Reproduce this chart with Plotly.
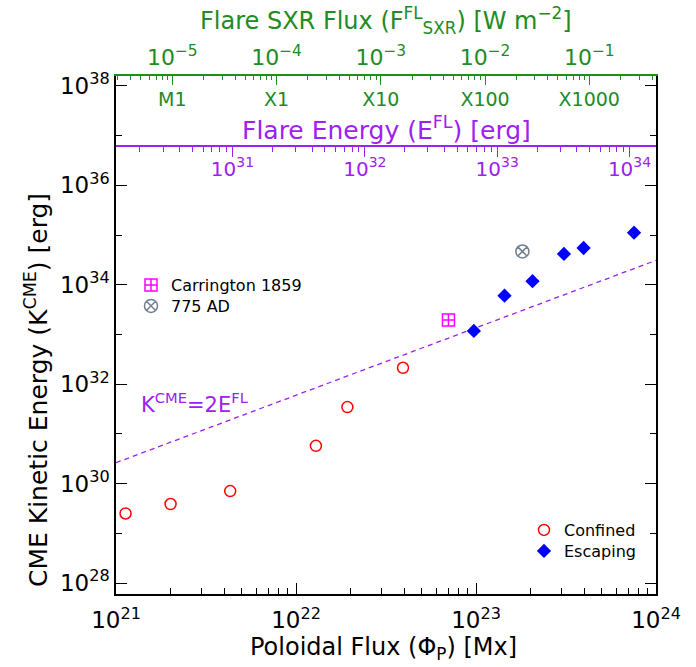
import plotly.graph_objects as go

# ---------------- data ----------------
confined_phi = [1.13e21, 2.01e21, 4.31e21, 1.29e22, 1.93e22, 3.93e22]
confined_K = [2.51e29, 3.89e29, 7.08e29, 5.75e30, 3.47e31, 2.14e32]

escaping_phi = [9.73e22, 1.44e23, 2.06e23, 3.08e23, 3.96e23, 7.55e23]
escaping_K = [1.18e33, 6.03e33, 1.18e34, 4.17e34, 5.50e34, 1.12e35]

carrington_phi = [7.03e22]
carrington_K = [1.95e33]
ad775_phi = [1.81e23]
ad775_K = [4.68e34]

# K = 2 E line (flare energy at the two ends of the flux axis)
line_phi = [1e21, 1e24]
line_E = [1.32e30, 1.55e34]
line_K = [2 * e for e in line_E]

# axis ranges (log10)
x_range = [21, 24]
y_range = [27.78, 38.20]
sxr_range = [-5.54, -0.36]
efl_range = [30.12, 34.20]

x_ticks = [1e21, 1e22, 1e23, 1e24]
x_ticktext = ["10<sup>21</sup>", "10<sup>22</sup>", "10<sup>23</sup>", "10<sup>24</sup>"]
y_ticks = [1e28, 1e30, 1e32, 1e34, 1e36, 1e38]
y_ticktext = ["10<sup>28</sup>", "10<sup>30</sup>", "10<sup>32</sup>", "10<sup>34</sup>",
              "10<sup>36</sup>", "10<sup>38</sup>"]
y_minor = [1e29, 1e31, 1e33, 1e35, 1e37]
sxr_ticks = [1e-5, 1e-4, 1e-3, 1e-2, 1e-1]
sxr_ticktext = ["10<sup>−5</sup>", "10<sup>−4</sup>", "10<sup>−3</sup>", "10<sup>−2</sup>", "10<sup>−1</sup>"]
goes_class = ["M1", "X1", "X10", "X100", "X1000"]
efl_ticks = [1e31, 1e32, 1e33, 1e34]
efl_ticktext = ["10<sup>31</sup>", "10<sup>32</sup>", "10<sup>33</sup>", "10<sup>34</sup>"]


def minor_vals(lo, hi):
    out = []
    for e in range(lo, hi + 1):
        for m in range(2, 10):
            out.append(m * 10.0 ** e)
    return out


GREEN = "#228B22"
PURPLE = "#A020F0"
FONT = "DejaVu Sans"

# plot-area geometry in pixels (for placing legends / annotations)
L, R, T, B = 116, 656, 76, 594


def px_x(px):
    return (px - L) / (R - L)


def px_y(py):
    return (B - py) / (B - T)


fig = go.Figure()

fig.add_trace(go.Scatter(
    x=line_phi, y=line_K, mode="lines", showlegend=False, hoverinfo="skip",
    line=dict(color=PURPLE, width=1.3, dash="5px,4px")))

fig.add_trace(go.Scatter(
    x=confined_phi, y=confined_K, mode="markers", name="Confined", legend="legend3",
    marker=dict(symbol="circle-open", size=11, color="red", line=dict(width=1.5, color="red"))))
fig.add_trace(go.Scatter(
    x=escaping_phi, y=escaping_K, mode="markers", name="Escaping", legend="legend4",
    marker=dict(symbol="diamond", size=11, color="blue")))
fig.add_trace(go.Scatter(
    x=carrington_phi, y=carrington_K, mode="markers", name="Carrington 1859", legend="legend",
    marker=dict(symbol="square-cross-open", size=12, color="magenta", line=dict(width=1.5, color="magenta"))))
fig.add_trace(go.Scatter(
    x=ad775_phi, y=ad775_K, mode="markers", name="775 AD", legend="legend2",
    marker=dict(symbol="circle-x-open", size=13, color="slategray", line=dict(width=1.5, color="slategray"))))

# dummy traces so the extra axes exist
for ax in ["x2", "x3", "x4"]:
    fig.add_trace(go.Scatter(x=[], y=[], xaxis=ax, yaxis="y", showlegend=False, hoverinfo="skip"))


def leg(xpx, ypx):
    return dict(x=px_x(xpx), y=px_y(ypx), xanchor="left", yanchor="middle",
                bgcolor="rgba(0,0,0,0)", font=dict(size=16), itemwidth=30)


fig.update_layout(
    width=696, height=667, autosize=False,
    margin=dict(l=L, r=696 - R, t=T, b=667 - B, autoexpand=False),
    paper_bgcolor="white", plot_bgcolor="white",
    font=dict(family=FONT, color="black", size=20),
    xaxis=dict(
        type="log", range=x_range, showgrid=False, zeroline=False, automargin=False,
        showline=True, linecolor="black", linewidth=1.5, mirror=False,
        ticks="inside", ticklen=11, tickwidth=1.2, tickcolor="black",
        tickvals=x_ticks, ticktext=x_ticktext, tickfont=dict(size=23),
        ticklabelstandoff=5,
        minor=dict(tickvals=minor_vals(21, 23), ticklen=6, tickwidth=1.2, tickcolor="black", ticks="inside"),
    ),
    yaxis=dict(
        type="log", range=y_range, showgrid=False, zeroline=False, automargin=False,
        showline=True, linecolor="black", linewidth=1.5, mirror="ticks",
        ticks="inside", ticklen=11, tickwidth=1.2, tickcolor="black",
        tickvals=y_ticks, ticktext=y_ticktext, tickfont=dict(size=23),
        minor=dict(tickvals=y_minor, ticklen=6, tickwidth=1.2, tickcolor="black", ticks="inside"),
    ),
    xaxis2=dict(
        type="log", range=sxr_range, overlaying="x", side="top", anchor="y", automargin=False,
        showgrid=False, zeroline=False,
        showline=True, linecolor=GREEN, linewidth=1.5,
        ticks="inside", ticklen=9, tickwidth=1.2, tickcolor=GREEN,
        tickvals=sxr_ticks, ticktext=sxr_ticktext, tickfont=dict(size=22, color=GREEN),
        minor=dict(tickvals=minor_vals(-6, -1), ticklen=4, tickwidth=1.2, tickcolor=GREEN, ticks="inside"),
    ),
    xaxis3=dict(
        type="log", range=sxr_range, overlaying="x", side="top", anchor="free", position=px_y(110),
        automargin=False, showgrid=False, zeroline=False, showline=False, ticks="",
        tickvals=sxr_ticks, ticktext=goes_class, tickfont=dict(size=19, color=GREEN),
    ),
    xaxis4=dict(
        type="log", range=efl_range, overlaying="x", side="bottom", anchor="free", position=px_y(146),
        automargin=False, showgrid=False, zeroline=False,
        showline=True, linecolor=PURPLE, linewidth=1.5,
        ticks="outside", ticklen=10, tickwidth=1.2, tickcolor=PURPLE,
        tickvals=efl_ticks, ticktext=efl_ticktext, tickfont=dict(size=20, color=PURPLE),
        ticklabelstandoff=-5,
        minor=dict(tickvals=minor_vals(30, 34), ticklen=5, tickwidth=1.2, tickcolor=PURPLE, ticks="outside"),
    ),
    legend=leg(131, 285),
    legend2=leg(131, 306),
    legend3=leg(524, 530),
    legend4=leg(524, 551),
    annotations=[
        dict(text="Flare SXR Flux (F<sup>FL</sup><sub>SXR</sub>) [W m<sup>−2</sup>]",
             xref="paper", yref="paper", x=0.5, y=px_y(20), xanchor="center", yanchor="middle",
             showarrow=False, font=dict(size=24, color=GREEN)),
        dict(text="Flare Energy (E<sup>FL</sup>) [erg]",
             xref="paper", yref="paper", x=0.5, y=px_y(128), xanchor="center", yanchor="middle",
             showarrow=False, font=dict(size=25, color=PURPLE)),
        dict(text="K<sup>CME</sup>=2E<sup>FL</sup>",
             xref="paper", yref="paper", x=px_x(195), y=px_y(403), xanchor="center", yanchor="middle",
             showarrow=False, font=dict(size=21, color=PURPLE)),
        dict(text="CME Kinetic Energy (K<sup>CME</sup>) [erg]", textangle=-90,
             xref="paper", yref="paper", x=px_x(36), y=px_y(390), xanchor="center", yanchor="middle",
             showarrow=False, font=dict(size=25, color="black")),
        dict(text="Poloidal Flux (Φ<sub>P</sub>) [Mx]",
             xref="paper", yref="paper", x=px_x(383), y=px_y(666), xanchor="center", yanchor="bottom",
             showarrow=False, font=dict(size=24, color="black")),
    ],
)

fig.write_html("out.html")
